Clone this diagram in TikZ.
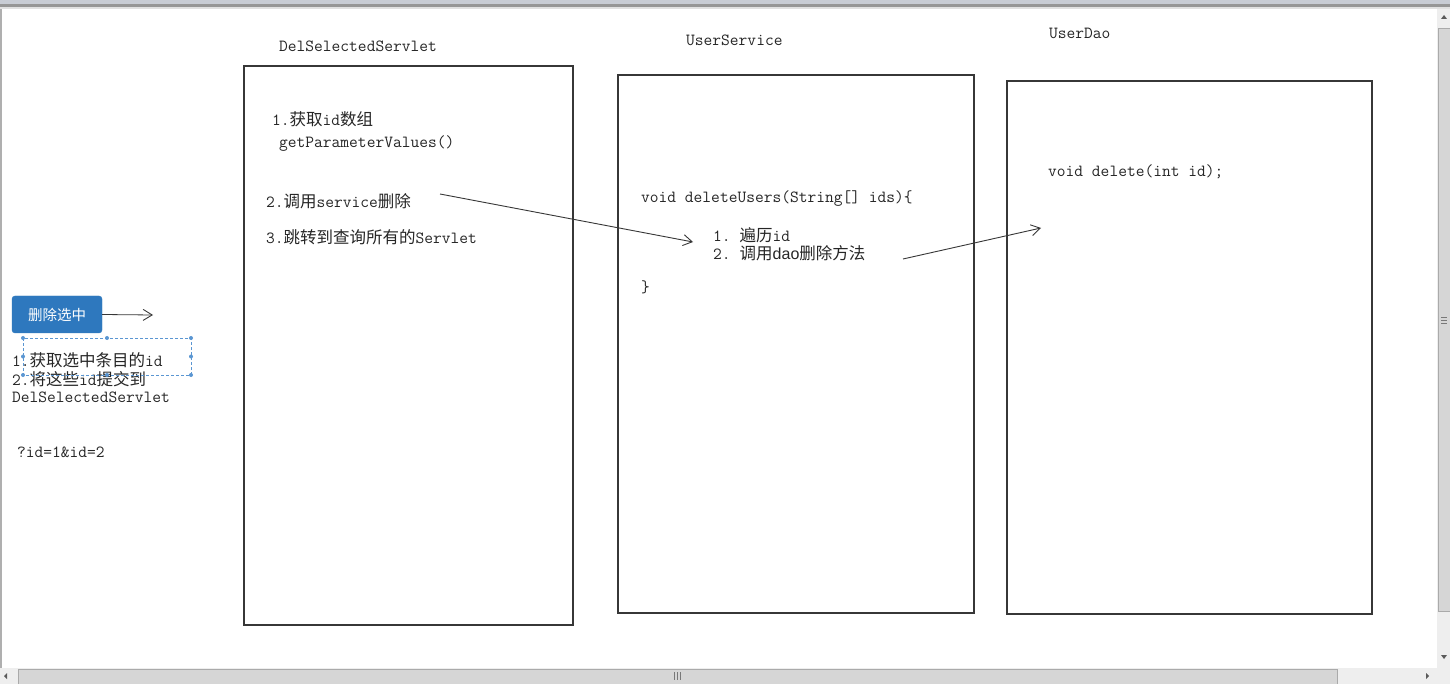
\documentclass[tikz,border=0pt]{standalone}
\usepackage{fontspec}
\newfontfamily\cjkfam{Noto Sans CJK SC}
\newfontfamily\sansfam{Liberation Sans}
\newcommand\zh[1]{{\cjkfam\fontsize{16.5}{17}\selectfont #1}}
\usetikzlibrary{arrows.meta}
\definecolor{linegray}{RGB}{55,55,55}
\definecolor{btnblue}{RGB}{46,120,190}
\definecolor{selblue}{RGB}{90,150,210}
\definecolor{thumbfill}{RGB}{214,214,214}
\definecolor{chromeA}{RGB}{200,204,212}
\definecolor{chromeB}{RGB}{150,150,150}
\definecolor{chromeC}{RGB}{225,225,225}
\definecolor{chromeD}{RGB}{175,175,175}
\definecolor{trackfill}{RGB}{238,238,238}
\definecolor{thumbline}{RGB}{170,170,170}
\definecolor{gripgray}{RGB}{120,120,120}
\definecolor{arrowgray}{RGB}{90,90,90}
\begin{document}
\begin{tikzpicture}[x=1pt,y=-1pt,
  box/.style={draw=linegray,line width=1.25pt,inner sep=0pt,fill=none},
  txt/.style={anchor=west,inner sep=0pt,text=black!85,font=\ttfamily\fontsize{17}{18}\selectfont},
  conn/.style={draw=linegray,line width=0.9pt,-{Straight Barb[length=9pt,width=11pt,line width=0.9pt]}},
  handle/.style={circle,fill=selblue,inner sep=0pt,minimum size=4pt}]
\useasboundingbox (0,0) rectangle (1450,684);
\fill[white] (0,0) rectangle (1450,684);
% window chrome
\fill[chromeA] (0,0) rectangle (1450,4);
\fill[chromeB] (0,4) rectangle (1450,7);
\fill[chromeC] (0,7) rectangle (1450,9);
\fill[chromeD] (0,9) rectangle (2,668);
% right scrollbar
\fill[trackfill] (1437,9) rectangle (1450,668);
\draw[thumbline,fill=thumbfill] (1438.5,28) rectangle (1450,611);
\foreach \yy in {317,320,323} \draw[gripgray,line width=0.7pt] (1441,\yy) -- (1447,\yy);
\fill[arrowgray] (1441,19) -- (1447,19) -- (1444,15) -- cycle;
\fill[arrowgray] (1441,655) -- (1447,655) -- (1444,659) -- cycle;
% bottom scrollbar
\fill[trackfill] (0,668) rectangle (1450,684);
\draw[thumbline,fill=thumbfill] (18,669) rectangle (1337,684);
\foreach \xx in {674,677,680} \draw[gripgray,line width=0.7pt] (\xx,672) -- (\xx,680);
\fill[arrowgray] (7,673) -- (7,679) -- (4,676) -- cycle;
\fill[arrowgray] (1426,673) -- (1426,679) -- (1429,676) -- cycle;

% boxes
\node[box,minimum width=329pt,minimum height=559pt] (servlet) at (408.5,345.5) {};
\node[box,minimum width=356pt,minimum height=538pt] (service) at (796,344) {};
\node[box,minimum width=365pt,minimum height=533pt] (dao) at (1189.5,347.5) {};

% titles
\node[txt] (t1) at (279,46) {DelSelectedServlet};
\node[txt] (t2) at (686,40) {UserService};
\node[txt] (t3) at (1049,33) {UserDao};

% servlet texts
\node[txt] (s1) at (272,119) {1.\zh{获取}id\zh{数组}};
\node[txt] (s1b) at (279,144) {getParameterValues()};
\node[txt] (s2) at (266,201) {2.\zh{调用}service\zh{删除}};
\node[txt] (s3) at (266,237) {3.\zh{跳转到查询所有的}Servlet};

% service texts
\node[txt] (v1) at (641,199) {void deleteUsers(String[] ids)\{};
\node[txt] (v2) at (713,235) {1.\hspace{9pt}\zh{遍历}id};
\node[txt] (v3) at (713,253) {2.\hspace{9pt}\zh{调用}{\sansfam\fontsize{16}{17}\selectfont dao}\zh{删除方法}};
\node[txt] (v4) at (641,287) {\}};

% dao text
\node[txt] (d1) at (1048,172) {void delete(int id);};

% left part
\node[draw=btnblue,fill=btnblue,rounded corners=3pt,minimum width=90pt,minimum height=37pt,inner sep=0pt,text=white] (btn) at (57,314.5) {{\cjkfam\fontsize{14.5}{15}\selectfont 删除选中}};
\coordinate (btnend) at (153,315);
\draw[conn,line width=0.8pt] (btn.east) -- (btnend);

\node[txt] (l1) at (12,360) {1.\zh{获取选中条目的}id};
\node[txt] (l2) at (12,379) {2.\zh{将这些}id\zh{提交到}};
\node[txt] (l3) at (12,397) {DelSelectedServlet};
\node[txt] (l4) at (17,452) {?id=1\&id=2};

% selection rectangle
\draw[selblue,line width=0.8pt,dash pattern=on 3pt off 2pt] (23,338) rectangle (191,375);
\foreach \p in {(23,338),(107,338),(191,338),(23,356.5),(191,356.5),(23,375),(107,375),(191,375)}
  \node[handle] at \p {};

% connectors
\coordinate (a1s) at (440,194);
\coordinate (a1e) at (693,242);
\coordinate (a2s) at (903,259);
\coordinate (a2e) at (1041,228);
\draw[conn] (a1s) -- (a1e);
\draw[conn] (a2s) -- (a2e);
\end{tikzpicture}
\end{document}
